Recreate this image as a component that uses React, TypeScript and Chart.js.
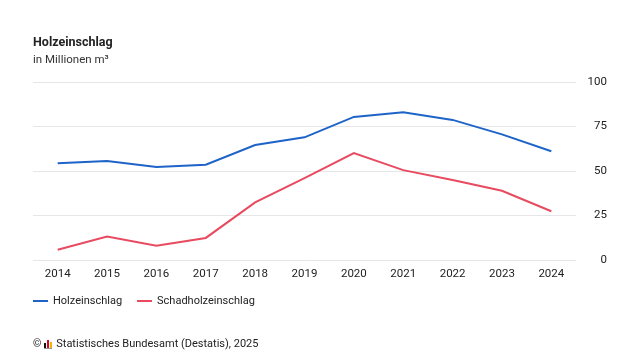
import React, { useEffect, useRef } from "react";
import { Chart, registerables } from "chart.js";

Chart.register(...registerables);

const years = ["2014", "2015", "2016", "2017", "2018", "2019", "2020", "2021", "2022", "2023", "2024"];
const holzeinschlag = [54.4, 55.6, 52.2, 53.5, 64.6, 68.9, 80.4, 83.0, 78.7, 70.6, 61.1];
const schadholz = [5.8, 13.2, 8.0, 12.4, 32.4, 46.0, 60.1, 50.5, 44.9, 38.9, 27.4];
const yTicks = [0, 25, 50, 75, 100];

const BLUE = "#1e64c8";
const RED = "#e84a5f";
const FONT = "Roboto, 'Noto Sans', sans-serif";
const TEXT = "#222";

export default function App() {
  const ref = useRef<HTMLCanvasElement | null>(null);

  useEffect(() => {
    document.body.style.margin = "0";
    const ctx = ref.current!.getContext("2d")!;
    const chart = new Chart(ctx, {
      type: "line",
      data: {
        labels: years,
        datasets: [
          { label: "Holzeinschlag", data: holzeinschlag, borderColor: BLUE, backgroundColor: BLUE, borderWidth: 2, pointRadius: 0, tension: 0 },
          { label: "Schadholzeinschlag", data: schadholz, borderColor: RED, backgroundColor: RED, borderWidth: 2, pointRadius: 0, tension: 0 },
        ],
      },
      options: {
        animation: false,
        responsive: false,
        maintainAspectRatio: false,
        layout: { padding: { top: 82, left: 33, right: 33, bottom: 80 } },
        plugins: { legend: { display: false }, title: { display: false }, tooltip: { enabled: false } },
        scales: {
          x: {
            type: "category",
            offset: true,
            grid: { display: false, drawTicks: false },
            border: { display: false },
            ticks: { color: TEXT, font: { family: FONT, size: 11.5 }, padding: 7, maxRotation: 0 },
            afterFit: (s: any) => { s.height = 20; },
          },
          y: {
            position: "right",
            min: 0,
            max: 100,
            afterBuildTicks: (s: any) => { s.ticks = yTicks.map((v) => ({ value: v })); },
            grid: { color: "#e6e6e6", lineWidth: 1, drawTicks: false },
            border: { display: false },
            ticks: { color: TEXT, font: { family: FONT, size: 11.5 }, padding: 8, crossAlign: "far" },
            afterFit: (s: any) => { s.width = 31; },
          },
        },
      },
    });
    return () => chart.destroy();
  }, []);

  return (
    <div style={{ position: "absolute", left: 0, top: 0, width: 640, height: 360, background: "#fff", fontFamily: FONT, color: TEXT }}>
      <canvas ref={ref} width={640} height={360} style={{ position: "absolute", left: 0, top: 0, width: 640, height: 360 }} />
      <div style={{ position: "absolute", left: 33, top: 34, fontSize: 12.5, fontWeight: 700, lineHeight: "16px" }}>Holzeinschlag</div>
      <div style={{ position: "absolute", left: 33, top: 51, fontSize: 11.5, lineHeight: "16px", color: "#333" }}>in Millionen m³</div>
      <div style={{ position: "absolute", left: 33, top: 293, fontSize: 11, lineHeight: "16px", display: "flex", alignItems: "center" }}>
        <span style={{ display: "inline-block", width: 15, height: 2, background: BLUE, marginRight: 5 }} />
        <span>Holzeinschlag</span>
        <span style={{ display: "inline-block", width: 15, height: 2, background: RED, marginLeft: 15, marginRight: 5 }} />
        <span>Schadholzeinschlag</span>
      </div>
      <div style={{ position: "absolute", left: 33, top: 336, fontSize: 11, lineHeight: "16px", display: "flex", alignItems: "center" }}>
        <span style={{ fontSize: 10.5, marginRight: 3 }}>©</span>
        <span style={{ display: "inline-flex", alignItems: "flex-end", height: 9, marginRight: 4, borderBottom: "1px solid #999", gap: 1 }}>
          <span style={{ width: 2, height: 5, background: "#111" }} />
          <span style={{ width: 2, height: 8, background: "#e0001a" }} />
          <span style={{ width: 2, height: 6, background: "#f5b400" }} />
        </span>
        <span>Statistisches Bundesamt (Destatis), 2025</span>
      </div>
    </div>
  );
}
